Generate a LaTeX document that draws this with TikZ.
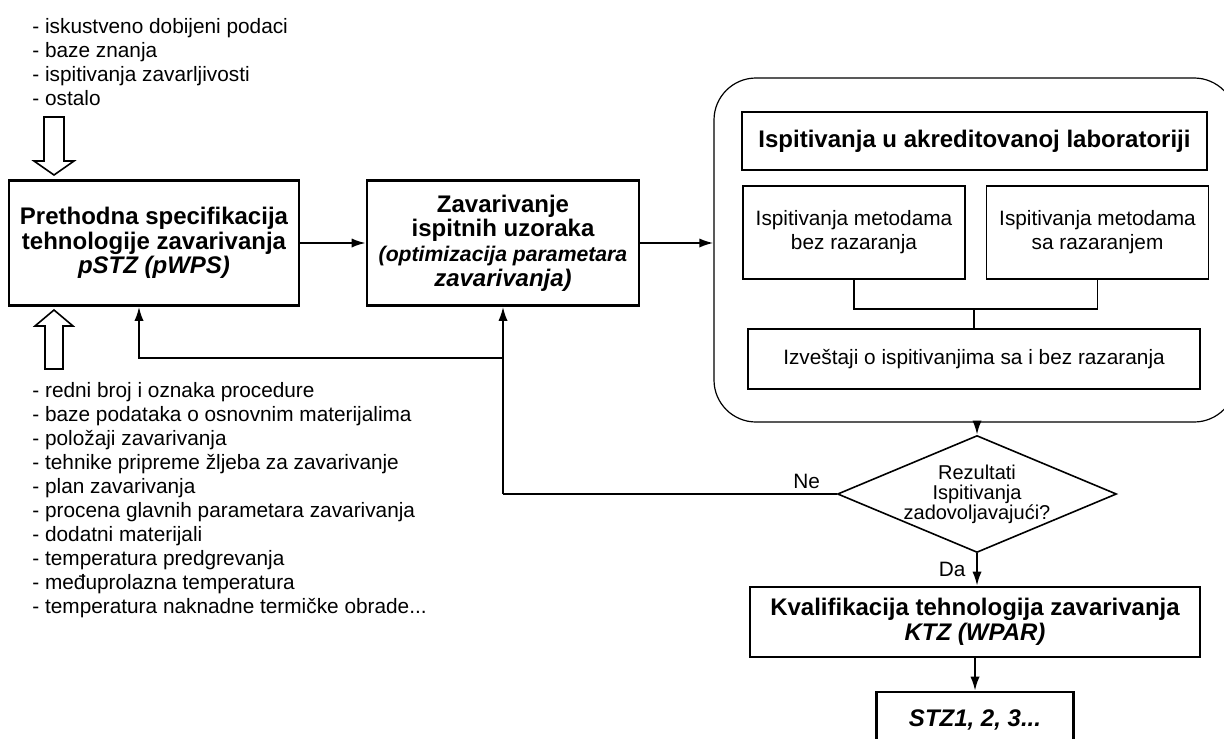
\documentclass[tikz,border=0pt]{standalone}
\usepackage{fontspec}
\setmainfont{Liberation Sans}
\usetikzlibrary{shapes.geometric, positioning, arrows.meta, calc}

\begin{document}
\begin{tikzpicture}[
    x=0.5pt, y=-0.5pt,
    mainbox/.style={draw, rectangle, line width=1.3pt, align=center, font=\bfseries\fontsize{12}{12.3}\selectfont},
    subbox/.style={draw, rectangle, line width=0.7pt, align=center, font=\fontsize{10.4}{12}\selectfont},
    labbox/.style={draw, rectangle, rounded corners=21pt, line width=0.6pt, minimum width=261pt, minimum height=172pt},
    decision/.style={draw, diamond, aspect=2.38, inner sep=-1pt, line width=0.8pt, minimum width=139.5pt, minimum height=58.5pt, align=center, font=\fontsize{10}{10}\selectfont},
    listtext/.style={align=left, inner sep=0pt, anchor=west, font=\fontsize{10.4}{12}\selectfont},
    arr/.style={-{Latex[length=7pt,width=4.6pt]}, line width=1pt},
    link/.style={line width=0.6pt},
    hollow/.style={draw, line width=0.8pt, fill=white}
]
    \useasboundingbox (0,0) rectangle (1224,738);

    % Main process boxes
    \node[mainbox, minimum width=145pt, minimum height=62.5pt] (pstz) at (154,243) {Prethodna specifikacija\\tehnologije zavarivanja\\\itshape pSTZ (pWPS)};
    \node[mainbox, minimum width=136pt, minimum height=62.5pt] (zav) at (503,243) {Zavarivanje\\ispitnih uzoraka\\\fontsize{10.6}{11.5}\selectfont\itshape (optimizacija parametara\\\itshape zavarivanja)};

    % Accredited laboratory
    \node[labbox] (lab) at (975,250) {};
    \node[mainbox, minimum width=232.5pt, minimum height=29pt] (hdr) at (974.5,141) {Ispitivanja u akreditovanoj laboratoriji};
    \node[subbox, minimum width=111pt, minimum height=46.5pt] (bez) at (854,232.5) {Ispitivanja metodama\\bez razaranja};
    \node[subbox, minimum width=111pt, minimum height=46.5pt] (sa) at (1097.5,232.5) {Ispitivanja metodama\\sa razaranjem};
    \node[subbox, minimum width=226pt, minimum height=30pt] (izv) at (974,359) {Izveštaji o ispitivanjima sa i bez razaranja};
    \coordinate (jn) at (974,309);

    % Decision and results
    \node[decision] (dec) at (977,494) {Rezultati\\Ispitivanja\\zadovoljavajući?};
    \node[mainbox, minimum width=225pt, minimum height=35pt] (ktz) at (975,622) {Kvalifikacija tehnologija zavarivanja\\\itshape KTZ (WPAR)};
    \node[mainbox, minimum width=98.5pt, minimum height=28pt] (stz) at (975,720) {\itshape STZ1, 2, 3...};

    % Input lists
    \node[listtext] (inTop) at (32,62) {- iskustveno dobijeni podaci\\- baze znanja\\- ispitivanja zavarljivosti\\- ostalo};
    \node[listtext] (inBot) at (32,500) {- redni broj i oznaka procedure\\- baze podataka o osnovnim materijalima\\- položaji zavarivanja\\- tehnike pripreme žljeba za zavarivanje\\- plan zavarivanja\\- procena glavnih parametara zavarivanja\\- dodatni materijali\\- temperatura predgrevanja\\- međuprolazna temperatura\\- temperatura naknadne termičke obrade...};

    % Hollow input arrows
    \draw[hollow] (54,175) -- ++(-20,-14) -- ++(10,0) -- ++(0,-44) -- ++(20,0) -- ++(0,44) -- ++(10,0) -- cycle;
    \draw[hollow] (54,310) -- ++(-19,16) -- ++(10,0) -- ++(0,43) -- ++(18,0) -- ++(0,-43) -- ++(10,0) -- cycle;

    % Forward flow
    \draw[arr] (pstz) -- (zav);
    \draw[arr] (zav.east) -- (zav.east -| lab.west);
    \draw[arr] (dec.north |- lab.south) -- (dec.north);
    \draw[arr] (dec.south) -- (dec.south |- ktz.north) node[midway, left=2pt, font=\fontsize{10.4}{12}\selectfont] {Da};
    \draw[arr] (ktz.south -| stz.north) -- (stz.north);

    % Lab internal links
    \draw[link] (bez.south) -- (bez.south |- jn) -- (sa.south |- jn) -- (sa.south);
    \draw[link] (jn) -- (izv.north);

    % Feedback (Ne)
    \coordinate (fbk) at (503,358);
    \coordinate (fbkin) at (139,0);
    \draw[line width=1pt] (dec.west) -- (dec.west -| zav.south) node[pos=0.09, above=-1pt, font=\fontsize{10.4}{12}\selectfont] {Ne};
    \draw[arr] (dec.west -| zav.south) -- (zav.south);
    \draw[arr] (fbk) -- (fbk -| fbkin) -- (fbkin |- pstz.south);

\end{tikzpicture}
\end{document}
